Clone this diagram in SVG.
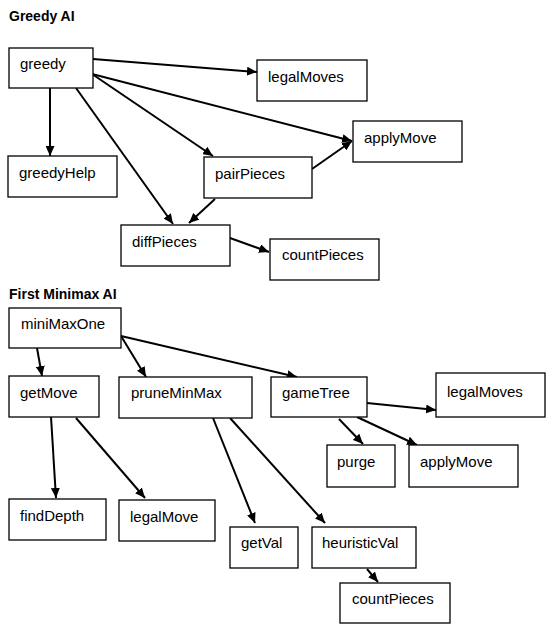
<svg xmlns="http://www.w3.org/2000/svg" width="551" height="630" viewBox="0 0 551 630">
<style>
.box{fill:#fff;stroke:#000;stroke-width:1.3}
.t{font-family:"Liberation Sans",Arial,sans-serif;font-size:15px;fill:#000}
.h{font-family:"Liberation Sans",Arial,sans-serif;font-size:14px;font-weight:bold;fill:#000}
.e{stroke:#000;stroke-width:2;fill:none;marker-end:url(#ah)}
</style>
<defs>
<marker id="ah" markerUnits="userSpaceOnUse" markerWidth="11" markerHeight="9" refX="10" refY="4.5" orient="auto">
<path d="M0,0 L10,4.5 L0,9 z" fill="#000"/>
</marker>
</defs>
<rect width="551" height="630" fill="#fff"/>
<text class="h" x="9" y="21">Greedy AI</text>
<text class="h" x="9" y="299">First Minimax AI</text>
<g id="connectors">
<line class="e" x1="93" y1="59" x2="257" y2="72"/>
<line class="e" x1="92" y1="74" x2="352" y2="141"/>
<line class="e" x1="92" y1="74" x2="213" y2="156"/>
<line class="e" x1="76" y1="88" x2="173" y2="224"/>
<line class="e" x1="50" y1="88" x2="50" y2="156"/>
<line class="e" x1="215" y1="199" x2="189" y2="223"/>
<line class="e" x1="312" y1="169" x2="352" y2="141"/>
<line class="e" x1="230" y1="238" x2="269" y2="252"/>
<line class="e" x1="37" y1="348" x2="42" y2="376"/>
<line class="e" x1="121" y1="336" x2="146" y2="377"/>
<line class="e" x1="121" y1="336" x2="297" y2="377"/>
<line class="e" x1="51" y1="417" x2="56" y2="498"/>
<line class="e" x1="76" y1="418" x2="145" y2="498"/>
<line class="e" x1="213" y1="418" x2="255" y2="523"/>
<line class="e" x1="230" y1="418" x2="325" y2="523"/>
<line class="e" x1="367" y1="403" x2="436" y2="410"/>
<line class="e" x1="339" y1="419" x2="363" y2="444"/>
<line class="e" x1="357" y1="417" x2="417" y2="445"/>
<line class="e" x1="367" y1="569" x2="378" y2="582"/>
</g>
<g id="greedy"><rect class="box" x="9" y="48" width="84" height="40"/><text class="t" x="20" y="69">greedy</text></g>
<g id="legalMoves1"><rect class="box" x="257" y="60" width="110" height="41"/><text class="t" x="268" y="82">legalMoves</text></g>
<g id="applyMove1"><rect class="box" x="353" y="121" width="109" height="41"/><text class="t" x="364" y="143">applyMove</text></g>
<g id="greedyHelp"><rect class="box" x="8" y="156" width="109" height="41"/><text class="t" x="19" y="178">greedyHelp</text></g>
<g id="pairPieces"><rect class="box" x="204" y="157" width="108" height="41"/><text class="t" x="215" y="179">pairPieces</text></g>
<g id="diffPieces"><rect class="box" x="121" y="225" width="109" height="41"/><text class="t" x="132" y="247">diffPieces</text></g>
<g id="countPieces1"><rect class="box" x="270" y="239" width="109" height="41"/><text class="t" x="282" y="260">countPieces</text></g>
<g id="miniMaxOne"><rect class="box" x="9" y="308" width="112" height="40"/><text class="t" x="21" y="329">miniMaxOne</text></g>
<g id="getMove"><rect class="box" x="9" y="376" width="90" height="41"/><text class="t" x="20" y="398">getMove</text></g>
<g id="pruneMinMax"><rect class="box" x="119" y="377" width="133" height="41"/><text class="t" x="131" y="398">pruneMinMax</text></g>
<g id="gameTree"><rect class="box" x="271" y="377" width="96" height="40"/><text class="t" x="282" y="398">gameTree</text></g>
<g id="legalMoves2"><rect class="box" x="436" y="373" width="109" height="44"/><text class="t" x="447" y="397">legalMoves</text></g>
<g id="purge"><rect class="box" x="327" y="445" width="68" height="42"/><text class="t" x="337" y="467">purge</text></g>
<g id="applyMove2"><rect class="box" x="409" y="445" width="109" height="42"/><text class="t" x="420" y="467">applyMove</text></g>
<g id="findDepth"><rect class="box" x="9" y="499" width="97" height="41"/><text class="t" x="20" y="521">findDepth</text></g>
<g id="legalMove"><rect class="box" x="119" y="500" width="96" height="41"/><text class="t" x="130" y="522">legalMove</text></g>
<g id="getVal"><rect class="box" x="230" y="527" width="68" height="41"/><text class="t" x="241" y="548">getVal</text></g>
<g id="heuristicVal"><rect class="box" x="312" y="527" width="104" height="41"/><text class="t" x="322" y="548">heuristicVal</text></g>
<g id="countPieces2"><rect class="box" x="340" y="583" width="110" height="40"/><text class="t" x="352" y="604">countPieces</text></g>
</svg>
